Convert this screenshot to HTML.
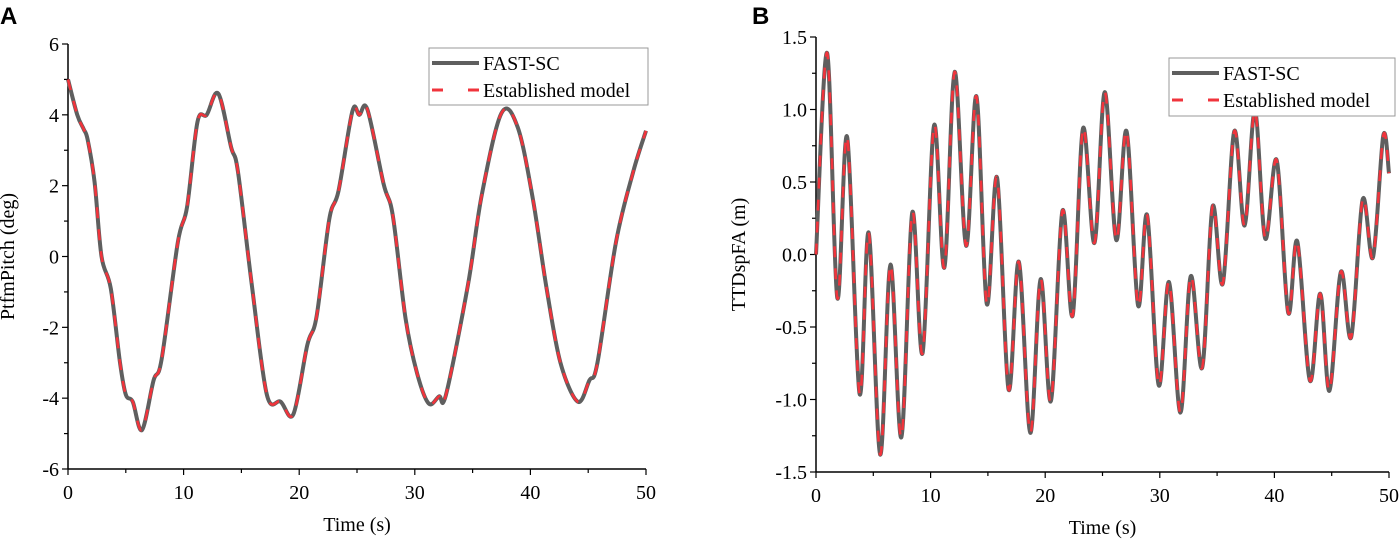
<!DOCTYPE html>
<html><head><meta charset="utf-8">
<style>
body{margin:0;background:#fff;}
svg text{font-family:"Liberation Serif",serif;fill:#000;}
</style></head>
<body>
<svg id="chart" width="1399" height="543" xmlns="http://www.w3.org/2000/svg">
<text x="0" y="24" style="font-family:'Liberation Sans',sans-serif;font-weight:bold;font-size:24px">A</text>
<text x="752" y="24" style="font-family:'Liberation Sans',sans-serif;font-weight:bold;font-size:24px">B</text>
<g id="pa"></g>
<g id="pb"></g>
</svg>
<script>
const aTime=[0,0.8,1.35,1.7,2.3,2.9,3.7,4.5,5.0,5.6,6.4,7.4,8.1,9.5,10.3,11.2,12,13,14.1,14.7,15.9,17.2,18.4,19.5,20.7,21.5,22.6,23.4,24.6,25.2,25.9,27.3,28.1,29.2,30.2,31.2,32.1,32.7,34.6,35.8,37.5,38.9,40.2,41.4,42.6,44.1,45.1,45.8,47.4,48.9,50];
const aPitch=[5.0,4.0,3.6,3.3,2.1,0,-0.9,-3.0,-3.9,-4.1,-4.9,-3.5,-2.9,0.4,1.4,3.8,4.0,4.6,3.1,2.4,-0.8,-3.9,-4.1,-4.45,-2.5,-1.7,1.05,1.85,4.1,4.0,4.15,2.05,1.15,-1.75,-3.3,-4.15,-3.95,-3.9,-0.8,1.75,4.05,3.65,1.65,-0.9,-3.0,-4.1,-3.5,-3.0,0.4,2.4,3.55];
const bTime=[0,0.97,1.86,2.72,3.8,4.6,5.6,6.5,7.45,8.4,9.3,10.3,11.2,12.1,13.1,14.0,14.9,15.8,16.8,17.7,18.7,19.6,20.5,21.5,22.4,23.3,24.3,25.2,26.2,27.1,28.1,28.9,29.9,30.8,31.8,32.7,33.7,34.6,35.5,36.5,37.4,38.3,39.2,40.2,41.2,42.0,43.1,44.0,44.8,45.8,46.7,47.7,48.6,49.5,50];
const bDisp=[0.0,1.39,-0.30,0.81,-0.96,0.15,-1.38,-0.07,-1.26,0.29,-0.68,0.89,-0.09,1.26,0.06,1.09,-0.34,0.53,-0.93,-0.05,-1.23,-0.17,-1.01,0.30,-0.42,0.87,0.08,1.12,0.10,0.85,-0.35,0.27,-0.90,-0.19,-1.09,-0.15,-0.78,0.33,-0.2,0.85,0.2,0.99,0.11,0.65,-0.40,0.09,-0.87,-0.27,-0.94,-0.12,-0.57,0.38,-0.02,0.82,0.56];
const aYTicks=["-6","-4","-2","0","2","4","6"];
const bYTicks=["-1.5","-1.0","-0.5","0.0","0.5","1.0","1.5"];
const xTicks=["0","10","20","30","40","50"];

const NS="http://www.w3.org/2000/svg";
function mk(p,tag,at){const e=document.createElementNS(NS,tag);for(const k in at)e.setAttribute(k,at[k]);p.appendChild(e);return e;}
function panel(g,o){
  const sx=t=>o.x0+(t-0)/50*(o.x1-o.x0);
  const sy=v=>o.y0-(v-o.vmin)/(o.vmax-o.vmin)*(o.y0-o.y1);
  let ax=mk(g,'line',{x1:o.x0,y1:o.y0,x2:o.x1,y2:o.y0,stroke:'#000','stroke-width':1.5});
  
  let ay=mk(g,'line',{x1:o.x0,y1:o.y0,x2:o.x0,y2:o.y1,stroke:'#000','stroke-width':1.5});
  
  for(let t=0;t<=50;t+=5){const x=sx(t);const major=t%10===0;
    mk(g,'line',{x1:x,y1:o.y0,x2:x,y2:o.y0+(major?6:4),stroke:'#000','stroke-width':1.2});}
  xTicks.forEach(s=>{const t=+s;const e=mk(g,'text',{x:sx(t),y:o.y0+30,'text-anchor':'middle','font-size':20});e.textContent=s;
    });
  const n=o.yt.length;
  for(let i=0;i<2*(n-1)+1;i++){const v=o.vmin+i*(o.vmax-o.vmin)/(2*(n-1));const y=sy(v);
    mk(g,'line',{x1:o.x0,y1:y,x2:o.x0-(i%2?4:6),y2:y,stroke:'#000','stroke-width':1.2});}
  o.yt.forEach(s=>{const v=+s;const e=mk(g,'text',{x:o.x0-9,y:sy(v)+7,'text-anchor':'end','font-size':20});e.textContent=s;
    });
  let xl=mk(g,'text',{x:(o.x0+o.x1)/2,y:o.y0+62,'text-anchor':'middle','font-size':20});xl.textContent='Time (s)';
  
  let yl=mk(g,'text',{x:0,y:0,'text-anchor':'middle','font-size':20,transform:`translate(${o.ylx},${(o.y0+o.y1)/2}) rotate(-90)`});yl.textContent=o.ylabel;
  
  const P=o.t.map((t,i)=>[sx(t),sy(o.v[i])]);
  let d=`M${P[0][0]},${P[0][1]}`;
  for(let i=0;i<P.length-1;i++){const p0=P[i-1]||P[i],p1=P[i],p2=P[i+1],p3=P[i+2]||P[i+1];
    const c1=[p1[0]+(p2[0]-p0[0])/6,p1[1]+(p2[1]-p0[1])/6],c2=[p2[0]-(p3[0]-p1[0])/6,p2[1]-(p3[1]-p1[1])/6];
    d+=`C${c1[0]},${c1[1]} ${c2[0]},${c2[1]} ${p2[0]},${p2[1]}`;}
  let l1=mk(g,'path',{d:d,fill:'none',stroke:'#5f5f5f','stroke-width':4,'stroke-linejoin':'round'});
  
  let l2=mk(g,'path',{d:d,fill:'none',stroke:'#f0343c','stroke-width':2.6,'stroke-dasharray':'11 11'});
  
  const L=o.leg;
  let lg=mk(g,'g',{});
  mk(lg,'rect',{x:L[0],y:L[1],width:L[2],height:L[3],fill:'#fff',stroke:'#999','stroke-width':1});
  mk(lg,'line',{x1:L[0]+3,y1:L[1]+15,x2:L[0]+50,y2:L[1]+15,stroke:'#5f5f5f','stroke-width':4});
  let t1=mk(lg,'text',{x:L[0]+54,y:L[1]+22,'font-size':20});t1.textContent='FAST-SC';
  
  mk(lg,'line',{x1:L[0]+3,y1:L[1]+42,x2:L[0]+50,y2:L[1]+42,stroke:'#f0343c','stroke-width':3,'stroke-dasharray':'11 25'});
  let t2=mk(lg,'text',{x:L[0]+54,y:L[1]+49,'font-size':20});t2.textContent='Established model';
  
}
panel(document.getElementById('pa'),{x0:68,x1:646,y0:469,y1:44,vmin:-6,vmax:6,yt:aYTicks,t:aTime,v:aPitch,ylabel:'PtfmPitch (deg)',ylx:14,leg:[429,48,219,57]});
panel(document.getElementById('pb'),{x0:816,x1:1389,y0:472,y1:37,vmin:-1.5,vmax:1.5,yt:bYTicks,t:bTime,v:bDisp,ylabel:'TTDspFA (m)',ylx:745,leg:[1169,58,226,58]});
</script>
</body></html>
